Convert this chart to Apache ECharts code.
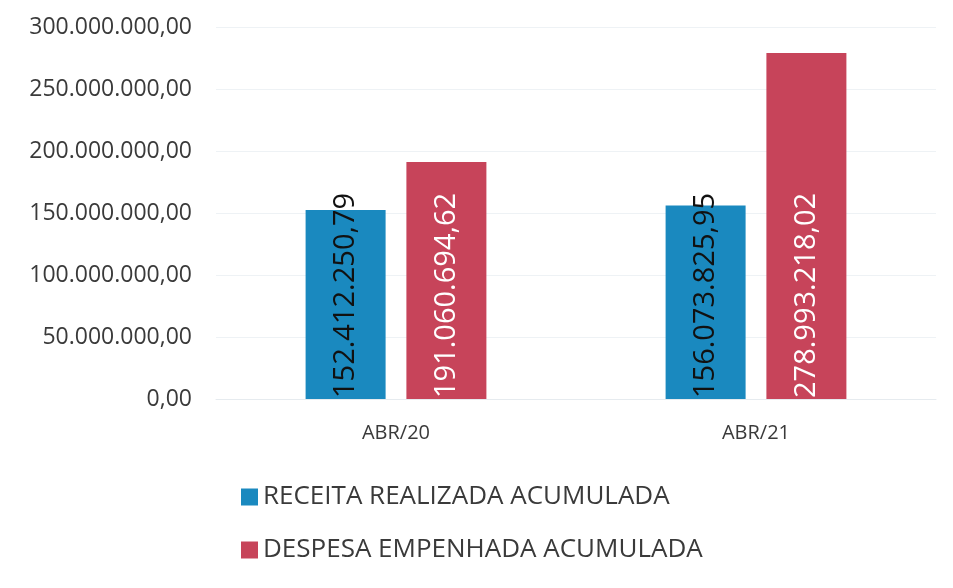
<!DOCTYPE html>
<html lang="pt">
<head>
    <meta charset="utf-8">
    <script src="https://cdn.jsdelivr.net/npm/echarts@6/dist/echarts.min.js"></script>
    <style>
        html, body { margin: 0; padding: 0; background: #fff; }
        #chart { width: 953px; height: 588px; }
    </style>
</head>
<body>
    <div id="chart"></div>
    <script type="text/javascript">
        var categories = ['ABR/20', 'ABR/21'];
        var receita = [152412250.79, 156073825.95];
        var despesa = [191060694.62, 278993218.02];
        var seriesNames = ['RECEITA REALIZADA ACUMULADA', 'DESPESA EMPENHADA ACUMULADA'];

        // formato brasileiro: 1.234.567,89
        function fmtBR(v) {
            var parts = Number(v).toFixed(2).split('.');
            var inteiro = parts[0].replace(/\B(?=(\d{3})+(?!\d))/g, '.');
            return inteiro + ',' + parts[1];
        }

        var font = '"Open Sans", "DejaVu Sans", sans-serif';
        var myChart = echarts.init(document.getElementById('chart'));

        var option = {
            animation: false,
            grid: { left: 216, right: 17, top: 27, bottom: 189, containLabel: false },
            legend: {
                orient: 'vertical',
                left: 236,
                top: 479,
                itemWidth: 17,
                itemHeight: 17,
                itemGap: 27,
                icon: 'rect',
                textStyle: { fontFamily: font, fontSize: 26, color: '#3a3a3a' },
                data: seriesNames
            },
            xAxis: {
                type: 'category',
                data: categories,
                axisLine: { show: true, lineStyle: { color: '#e6ebef' } },
                axisTick: { show: false },
                axisLabel: { fontFamily: font, fontSize: 20, color: '#3a3a3a', margin: 24 }
            },
            yAxis: {
                type: 'value',
                min: 0,
                max: 300000000,
                interval: 50000000,
                axisLine: { show: false },
                axisTick: { show: false },
                splitLine: { lineStyle: { color: '#eef2f5' } },
                axisLabel: {
                    fontFamily: font, fontSize: 23, color: '#3a3a3a', margin: 24,
                    formatter: fmtBR
                }
            },
            series: [
                {
                    name: seriesNames[0],
                    type: 'bar',
                    data: receita,
                    barWidth: 80,
                    barGap: '26%',
                    itemStyle: { color: '#1a89bf' },
                    label: {
                        show: true,
                        position: 'insideBottom',
                        rotate: 90,
                        align: 'left',
                        verticalAlign: 'middle',
                        distance: 1,
                        fontFamily: font,
                        fontSize: 29,
                        color: '#111',
                        formatter: function (p) { return fmtBR(p.value); }
                    }
                },
                {
                    name: seriesNames[1],
                    type: 'bar',
                    data: despesa,
                    barWidth: 80,
                    itemStyle: { color: '#c7445a' },
                    label: {
                        show: true,
                        position: 'insideBottom',
                        rotate: 90,
                        align: 'left',
                        verticalAlign: 'middle',
                        distance: 1,
                        fontFamily: font,
                        fontSize: 29,
                        color: '#fff',
                        formatter: function (p) { return fmtBR(p.value); }
                    }
                }
            ]
        };

        myChart.setOption(option);
    </script>
</body>
</html>
